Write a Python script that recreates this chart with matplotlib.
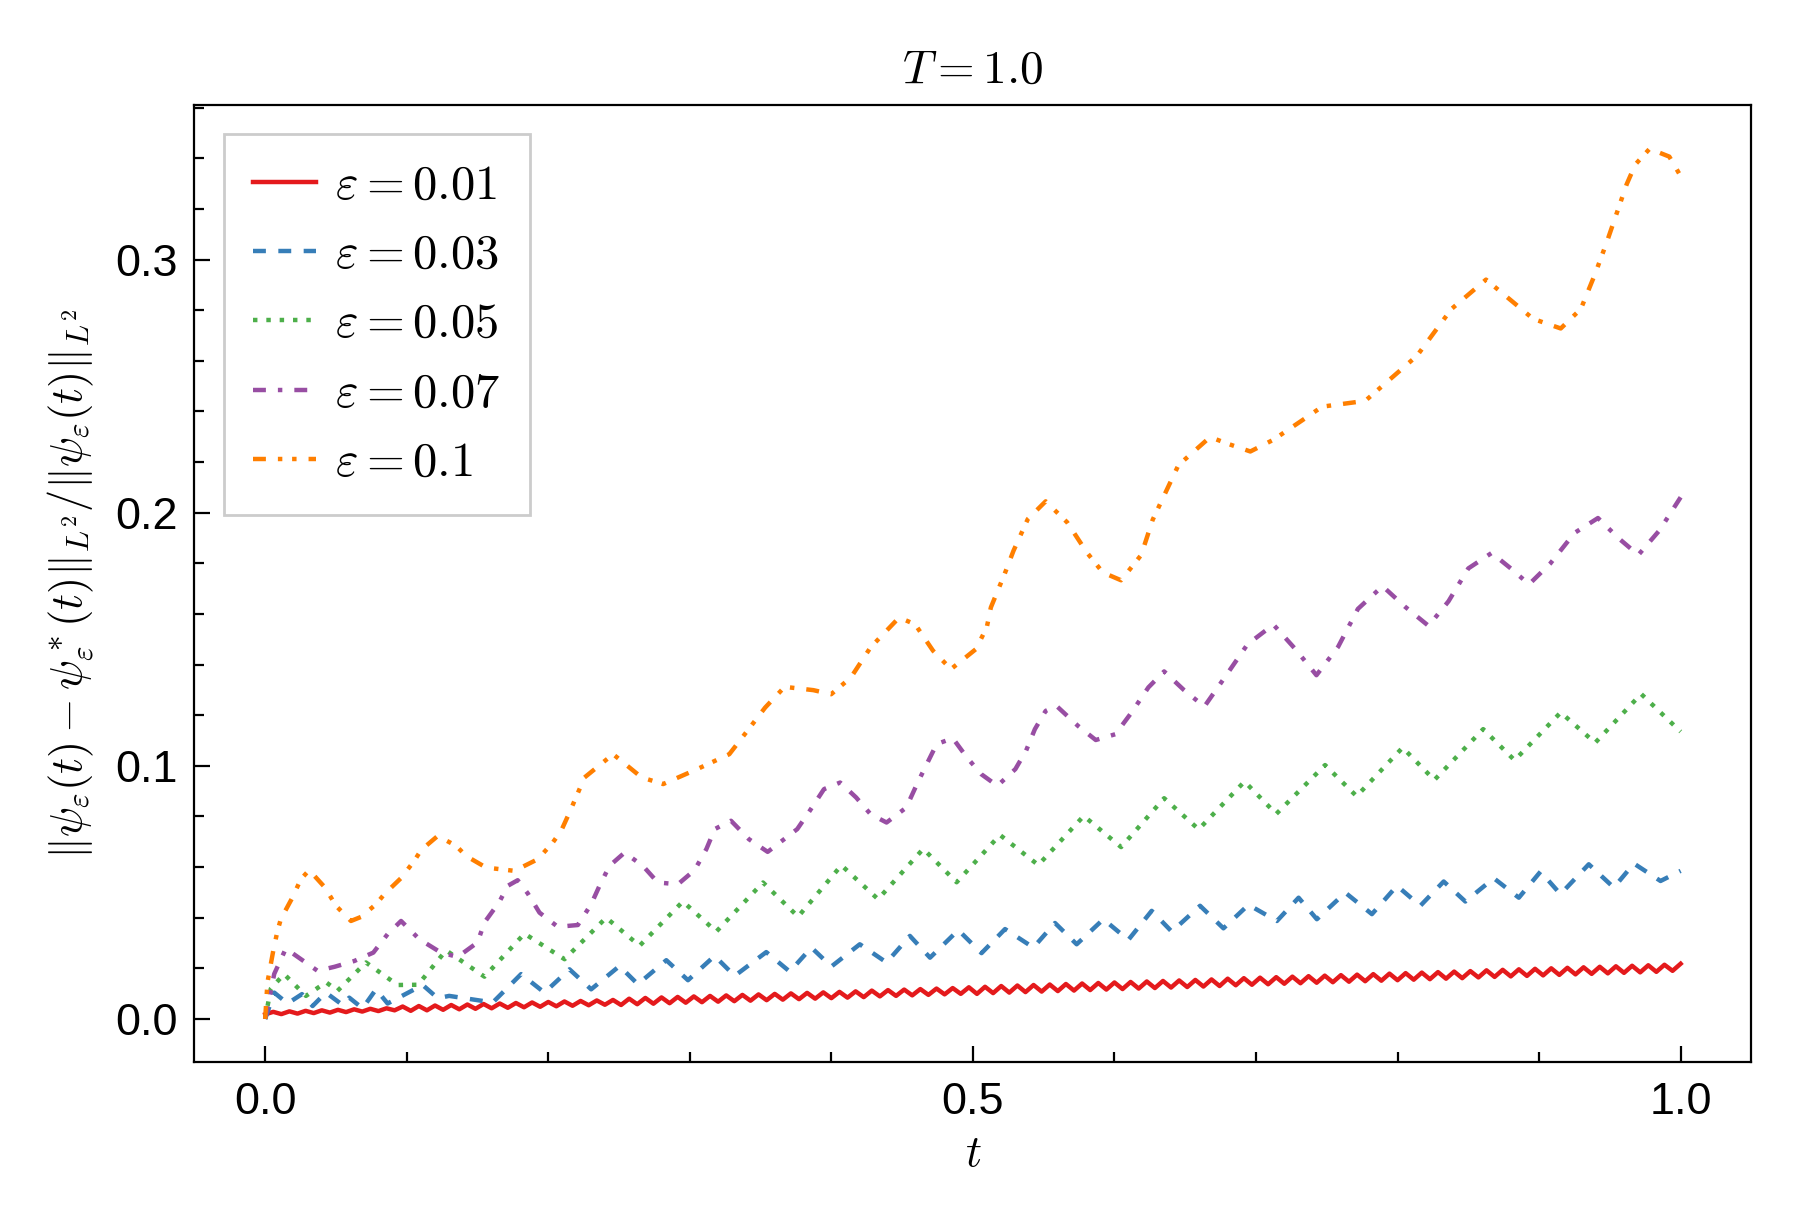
import numpy as np
import matplotlib
matplotlib.use("Agg")
import matplotlib.pyplot as plt
from matplotlib.ticker import MultipleLocator

plt.rcParams['font.family'] = ['Liberation Sans', 'DejaVu Sans']
plt.rcParams['mathtext.fontset'] = 'cm'

# eps = 0.01 : fast zigzag, values at successive peaks/troughs (even spacing in t)
red_y = [0.0018, 0.0028, 0.0019, 0.0030, 0.0021, 0.0032, 0.0023, 0.0034, 0.0025, 0.0036,
         0.0027, 0.0038, 0.0029, 0.0040, 0.0031, 0.0042, 0.0034, 0.0049, 0.0032, 0.0051,
         0.0034, 0.0053, 0.0036, 0.0055, 0.0038, 0.0057, 0.0040, 0.0059, 0.0042, 0.0061,
         0.0044, 0.0063, 0.0046, 0.0065, 0.0048, 0.0067, 0.0050, 0.0069, 0.0052, 0.0071,
         0.0054, 0.0073, 0.0056, 0.0075, 0.0055, 0.0080, 0.0058, 0.0083, 0.0060, 0.0085,
         0.0062, 0.0087, 0.0064, 0.0089, 0.0066, 0.0091, 0.0068, 0.0093, 0.0070, 0.0095,
         0.0072, 0.0097, 0.0074, 0.0099, 0.0076, 0.0101, 0.0078, 0.0103, 0.0080, 0.0105,
         0.0082, 0.0107, 0.0084, 0.0109, 0.0086, 0.0112, 0.0089, 0.0114, 0.0091, 0.0116,
         0.0093, 0.0118, 0.0095, 0.0120, 0.0097, 0.0122, 0.0099, 0.0125, 0.0099, 0.0127,
         0.0102, 0.0130, 0.0104, 0.0132, 0.0106, 0.0134, 0.0108, 0.0136, 0.0110, 0.0138,
         0.0112, 0.0140, 0.0114, 0.0142, 0.0116, 0.0144, 0.0118, 0.0146, 0.0120, 0.0148,
         0.0122, 0.0150, 0.0124, 0.0152, 0.0126, 0.0154, 0.0128, 0.0156, 0.0130, 0.0159,
         0.0133, 0.0161, 0.0135, 0.0163, 0.0137, 0.0165, 0.0139, 0.0167, 0.0141, 0.0169,
         0.0143, 0.0171, 0.0145, 0.0173, 0.0147, 0.0175, 0.0149, 0.0177, 0.0151, 0.0179,
         0.0153, 0.0181, 0.0155, 0.0183, 0.0157, 0.0185, 0.0159, 0.0187, 0.0161, 0.0189,
         0.0164, 0.0192, 0.0166, 0.0194, 0.0168, 0.0196, 0.0170, 0.0198, 0.0172, 0.0200,
         0.0174, 0.0202, 0.0176, 0.0204, 0.0178, 0.0206, 0.0180, 0.0208, 0.0182, 0.0210,
         0.0184, 0.0212, 0.0186, 0.0214, 0.0190, 0.0218]

blue_t = [0.0, 0.0064, 0.0158, 0.0260, 0.0335, 0.0429, 0.0547, 0.0594, 0.0688, 0.0783,
          0.0865, 0.1113, 0.1219, 0.1300, 0.1608, 0.1808, 0.1973, 0.2150, 0.2303, 0.2503,
          0.2633, 0.2834, 0.2987, 0.3175, 0.3317, 0.3540, 0.3706, 0.3859, 0.4000, 0.4201,
          0.4390, 0.4555, 0.4697, 0.4897, 0.5061, 0.5227, 0.5427, 0.5580, 0.5733, 0.5922,
          0.6098, 0.6263, 0.6405, 0.6605, 0.6770, 0.6947, 0.7148, 0.7301, 0.7430, 0.7631,
          0.7819, 0.7996, 0.8161, 0.8326, 0.8479, 0.8680, 0.8857, 0.9010, 0.9151, 0.9351,
          0.9528, 0.9670, 0.9858, 1.0]
blue_y = [0.0, 0.0104, 0.0061, 0.0098, 0.0051, 0.0104, 0.0055, 0.0084, 0.0042, 0.0117,
          0.0061, 0.0134, 0.0082, 0.0091, 0.0065, 0.0177, 0.0104, 0.0196, 0.0117, 0.0209,
          0.0137, 0.0232, 0.0153, 0.0249, 0.0170, 0.0264, 0.0187, 0.0282, 0.0207, 0.0295,
          0.0223, 0.0328, 0.0242, 0.0351, 0.0260, 0.0355, 0.0282, 0.0379, 0.0295, 0.0394,
          0.0312, 0.0427, 0.0345, 0.0447, 0.0358, 0.0451, 0.0387, 0.0479, 0.0394, 0.0499,
          0.0414, 0.0526, 0.0447, 0.0543, 0.0464, 0.0556, 0.0479, 0.0582, 0.0493, 0.0611,
          0.0519, 0.0614, 0.0545, 0.0585]

green_t = [0.0, 0.0040, 0.0134, 0.0288, 0.0430, 0.0511, 0.0712, 0.0936, 0.1080, 0.1278,
           0.1549, 0.1832, 0.2115, 0.2409, 0.2645, 0.2951, 0.3187, 0.3517, 0.3765, 0.4071,
           0.4330, 0.4649, 0.4885, 0.5191, 0.5462, 0.5783, 0.6047, 0.6351, 0.6595, 0.6919,
           0.7143, 0.7488, 0.7711, 0.8036, 0.8260, 0.8605, 0.8827, 0.9153, 0.9396, 0.9721,
           1.0]
green_y = [0.0, 0.0120, 0.0177, 0.0091, 0.0145, 0.0111, 0.0223, 0.0134, 0.0135, 0.0271,
           0.0167, 0.0337, 0.0236, 0.0400, 0.0289, 0.0464, 0.0345, 0.0539, 0.0404, 0.0607,
           0.0473, 0.0672, 0.0540, 0.0727, 0.0608, 0.0802, 0.0679, 0.0872, 0.0749, 0.0938,
           0.0810, 0.1003, 0.0880, 0.1072, 0.0944, 0.1145, 0.1022, 0.1211, 0.1091, 0.1284,
           0.1135]

purple_t = [0.0, 0.0064, 0.0146, 0.0370, 0.0490, 0.0630, 0.0764, 0.0865, 0.0960, 0.1089,
            0.1242, 0.1360, 0.1500, 0.1549, 0.1655, 0.1714, 0.1784, 0.1855, 0.1938, 0.2067,
            0.2209, 0.2303, 0.2362, 0.2433, 0.2539, 0.2668, 0.2774, 0.2916, 0.3034, 0.3117,
            0.3176, 0.3291, 0.3418, 0.3550, 0.3759, 0.3847, 0.3948, 0.4062, 0.4175, 0.4277,
            0.4390, 0.4529, 0.4605, 0.4668, 0.4744, 0.4858, 0.4958, 0.5059, 0.5173, 0.5300,
            0.5375, 0.5438, 0.5514, 0.5590, 0.5742, 0.5868, 0.6007, 0.6120, 0.6240, 0.6351,
            0.6490, 0.6635, 0.6780, 0.6940, 0.7123, 0.7280, 0.7427, 0.7580, 0.7720, 0.7894,
            0.8050, 0.8219, 0.8360, 0.8500, 0.8665, 0.8800, 0.8929, 0.9080, 0.9250, 0.9416,
            0.9560, 0.9701, 0.9850, 1.0]
purple_y = [0.0, 0.0178, 0.0278, 0.0190, 0.0206, 0.0229, 0.0262, 0.0335, 0.0387, 0.0315,
            0.0262, 0.0245, 0.0302, 0.0381, 0.0463, 0.0526, 0.0548, 0.0496, 0.0420, 0.0364,
            0.0371, 0.0453, 0.0526, 0.0605, 0.0657, 0.0605, 0.0539, 0.0532, 0.0588, 0.0671,
            0.0750, 0.0783, 0.0710, 0.0660, 0.0750, 0.0822, 0.0908, 0.0934, 0.0875, 0.0809,
            0.0776, 0.0835, 0.0928, 0.1000, 0.1086, 0.1109, 0.1033, 0.0967, 0.0921, 0.0987,
            0.1059, 0.1145, 0.1217, 0.1237, 0.1158, 0.1102, 0.1125, 0.1210, 0.1310, 0.1373,
            0.1300, 0.1234, 0.1350, 0.1480, 0.1558, 0.1460, 0.1358, 0.1470, 0.1620, 0.1710,
            0.1630, 0.1553, 0.1650, 0.1780, 0.1841, 0.1780, 0.1717, 0.1800, 0.1920, 0.1979,
            0.1900, 0.1833, 0.1930, 0.2061]

orange_t = [0.0, 0.0016, 0.0057, 0.0087, 0.0111, 0.0193, 0.0252, 0.0311, 0.0423, 0.0500,
            0.0606, 0.0677, 0.0783, 0.0842, 0.0959, 0.1054, 0.1101, 0.1219, 0.1349, 0.1419,
            0.1561, 0.1761, 0.1926, 0.2032, 0.2091, 0.2155, 0.2256, 0.2458, 0.2660, 0.2812,
            0.3052, 0.3279, 0.3380, 0.3532, 0.3670, 0.3873, 0.3999, 0.4138, 0.4277, 0.4479,
            0.4592, 0.4718, 0.4845, 0.5021, 0.5098, 0.5127, 0.5224, 0.5287, 0.5388, 0.5514,
            0.5666, 0.5805, 0.5918, 0.6047, 0.6189, 0.6270, 0.6452, 0.6676, 0.6798, 0.6960,
            0.7122, 0.7326, 0.7467, 0.7772, 0.8137, 0.8381, 0.8625, 0.8808, 0.8958, 0.9153,
            0.9295, 0.9396, 0.9477, 0.9619, 0.9680, 0.9781, 0.9920, 1.0]
orange_y = [0.0, 0.0144, 0.0269, 0.0348, 0.0395, 0.0480, 0.0552, 0.0588, 0.0519, 0.0447,
            0.0387, 0.0403, 0.0453, 0.0493, 0.0556, 0.0625, 0.0667, 0.0723, 0.0684, 0.0644,
            0.0598, 0.0585, 0.0631, 0.0697, 0.0743, 0.0822, 0.0954, 0.1046, 0.0954, 0.0928,
            0.0987, 0.1046, 0.1119, 0.1230, 0.1312, 0.1299, 0.1283, 0.1349, 0.1468, 0.1586,
            0.1559, 0.1455, 0.1382, 0.1461, 0.1547, 0.1626, 0.1758, 0.1850, 0.1975, 0.2045,
            0.1962, 0.1843, 0.1764, 0.1733, 0.1833, 0.1972, 0.2188, 0.2299, 0.2273, 0.2242,
            0.2288, 0.2365, 0.2419, 0.2442, 0.2620, 0.2805, 0.2921, 0.2836, 0.2766, 0.2728,
            0.2805, 0.2944, 0.3067, 0.3298, 0.3376, 0.3438, 0.3407, 0.3330]

labels = [r'$\varepsilon = 0.01$', r'$\varepsilon = 0.03$', r'$\varepsilon = 0.05$',
          r'$\varepsilon = 0.07$', r'$\varepsilon = 0.1$']

red_t = np.linspace(0, 1, len(red_y))

fig = plt.figure(figsize=(9, 6.12), dpi=200)
ax = fig.add_axes([0.108, 0.132, 0.865, 0.782])

lw = 1.6
ax.plot(red_t, red_y, color='#e41a1c', lw=lw, ls='-', label=labels[0])
ax.plot(blue_t, blue_y, color='#377eb8', lw=lw, ls=(0, (2.9, 2.8)), label=labels[1])
ax.plot(green_t, green_y, color='#4daf4a', lw=lw, ls=(0, (1.0, 2.0)), label=labels[2])
ax.plot(purple_t, purple_y, color='#984ea3', lw=lw,
        ls=(0, (2.9, 2.7, 1.0, 2.7)), label=labels[3])
ax.plot(orange_t, orange_y, color='#ff7f00', lw=lw,
        ls=(0, (2.9, 2.7, 1.0, 2.2, 1.0, 2.7)), label=labels[4])

ax.set_xticks([0.0, 0.5, 1.0])
ax.xaxis.set_minor_locator(MultipleLocator(0.1))
ax.yaxis.set_major_locator(MultipleLocator(0.1))
ax.yaxis.set_minor_locator(MultipleLocator(0.02))
ax.tick_params(which='both', direction='in', width=0.8, top=False, right=False,
               labelsize=16.2)
ax.tick_params(which='major', length=5.8)
ax.tick_params(which='minor', length=3.5)
ax.tick_params(axis='x', pad=7)
ax.tick_params(axis='y', pad=6)
for s in ax.spines.values():
    s.set_linewidth(0.8)

ax.set_title(r'$T = 1.0$', fontsize=17, pad=8)
ax.set_xlabel(r'$t$', fontsize=16)
ax.set_ylabel(r'$\Vert\psi_\varepsilon(t) - \psi_\varepsilon^*(t)\Vert_{L^2}/\Vert\psi_\varepsilon(t)\Vert_{L^2}$',
              fontsize=16, labelpad=7)

leg = ax.legend(loc='upper left', fontsize=17.5, handlelength=1.3, handletextpad=0.4,
                labelspacing=0.5, borderpad=0.6, borderaxespad=0.6,
                fancybox=False, framealpha=1, edgecolor='#cccccc')
leg.get_frame().set_linewidth(1.0)

fig.savefig('out.png', dpi=200)
